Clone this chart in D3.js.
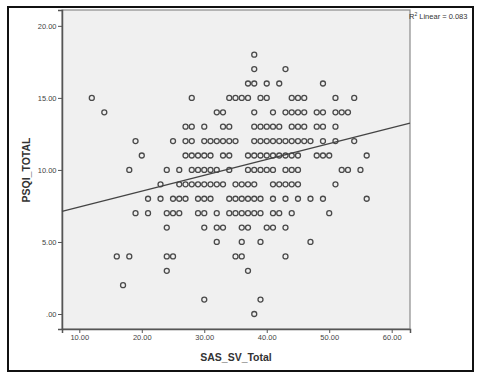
<!DOCTYPE html>
<html>
<head>
<meta charset="utf-8">
<script src="https://cdn.jsdelivr.net/npm/d3@7"></script>
<style>
  html, body { margin: 0; padding: 0; background: #fff; }
  svg { display: block; }
  .tick text { font-family: Arial, "Liberation Sans", sans-serif; font-size: 7.5px; fill: #444; }
</style>
</head>
<body>
<svg id="chart" width="480" height="381"></svg>
<script>
// ---- data ----
const psqiLevels = [18, 17, 16, 15, 14, 13, 12, 11, 10, 9, 8, 7, 6, 5, 4, 3, 2, 1, 0];
const sasByLevel = [
  [38],
  [38, 43],
  [37, 38, 40, 42, 49],
  [12, 28, 34, 35, 36, 37, 39, 40, 44, 45, 46, 51, 54],
  [14, 32, 33, 38, 41, 43, 44, 45, 46, 48, 49, 51, 52, 53],
  [27, 28, 30, 33, 34, 38, 39, 40, 41, 42, 44, 45, 46, 48, 49, 51],
  [19, 25, 27, 28, 30, 31, 32, 33, 34, 35, 38, 39, 40, 41, 42, 43, 44, 45, 46, 47, 49, 51, 54],
  [20, 27, 28, 29, 30, 31, 33, 34, 37, 38, 39, 40, 41, 42, 43, 44, 45, 48, 49, 50, 56],
  [18, 24, 26, 28, 29, 30, 31, 32, 34, 37, 38, 39, 40, 41, 43, 44, 45, 52, 53, 55],
  [23, 26, 27, 28, 29, 30, 31, 32, 33, 35, 36, 37, 38, 41, 42, 43, 44, 45, 51],
  [21, 23, 25, 26, 27, 29, 30, 31, 34, 35, 36, 37, 38, 39, 41, 43, 45, 47, 49, 56],
  [19, 21, 24, 25, 26, 29, 30, 32, 34, 35, 36, 37, 38, 39, 41, 42, 44, 50],
  [24, 30, 32, 33, 36, 37, 40, 41, 43],
  [32, 36, 39, 47],
  [16, 18, 24, 25, 35, 36, 43],
  [24, 37],
  [17],
  [30, 39],
  [38]
];
const xTicks = [10, 20, 30, 40, 50, 60];
const yTicks = [0, 5, 10, 15, 20];
const fitIntercept = 6.33;
const fitSlope = 0.110;
const r2Label = "0.083";
const xTitle = "SAS_SV_Total";
const yTitle = "PSQI_TOTAL";

const points = [];
psqiLevels.forEach((lv, i) => sasByLevel[i].forEach(s => points.push({ x: s, y: lv })));

// ---- layout ----
const svg = d3.select("#chart");
const plot = { left: 62, right: 410, top: 10, bottom: 329 };
const xDomain = [7.23, 62.93];
const yDomain = [-1.04, 21.1];

const x = d3.scaleLinear().domain(xDomain).range([plot.left, plot.right]);
const y = d3.scaleLinear().domain(yDomain).range([plot.bottom, plot.top]);

// outer frame
svg.append("rect")
  .attr("x", 8).attr("y", 7).attr("width", 465).attr("height", 364)
  .attr("fill", "#fff").attr("stroke", "#111").attr("stroke-width", 2);

// plot background
svg.append("rect")
  .attr("x", plot.left).attr("y", plot.top)
  .attr("width", plot.right - plot.left).attr("height", plot.bottom - plot.top)
  .attr("fill", "#f0f0f0").attr("stroke", "#8a8a8a").attr("stroke-width", 1.2);

// axes
const fmt = d => d === 0 ? ".00" : d3.format(".2f")(d);
const xAxis = svg.append("g")
  .attr("transform", `translate(0,${plot.bottom})`)
  .call(d3.axisBottom(x).tickValues(xTicks).tickFormat(fmt).tickSize(4).tickPadding(2));
const yAxis = svg.append("g")
  .attr("transform", `translate(${plot.left},0)`)
  .call(d3.axisLeft(y).tickValues(yTicks).tickFormat(fmt).tickSize(4).tickPadding(1.5));
[xAxis, yAxis].forEach(g => {
  g.select(".domain").attr("stroke", "#555").attr("stroke-width", 1.5);
  g.selectAll(".tick line").attr("stroke", "#555");
});

// points
svg.append("g").selectAll("circle").data(points).join("circle")
  .attr("cx", d => x(d.x)).attr("cy", d => y(d.y)).attr("r", 2.5)
  .attr("fill", "none").attr("stroke", "#4a4a4a").attr("stroke-width", 1.3);

// fit line
const lineGen = d3.line().x(d => x(d)).y(d => y(fitIntercept + fitSlope * d));
svg.append("path").datum(xDomain)
  .attr("d", lineGen)
  .attr("fill", "none").attr("stroke", "#444").attr("stroke-width", 1.3);

// R² label
const r2 = svg.append("text")
  .attr("x", plot.right - 1).attr("y", 19)
  .attr("font-family", "Arial, 'Liberation Sans', sans-serif")
  .attr("font-size", 7.5).attr("fill", "#333");
r2.append("tspan").text("R");
r2.append("tspan").text("2").attr("font-size", 5).attr("dy", -3);
r2.append("tspan").text(` Linear = ${r2Label}`).attr("dy", 3);

// axis titles
svg.append("text")
  .attr("x", (plot.left + plot.right) / 2 - 0).attr("y", 361)
  .attr("text-anchor", "middle")
  .attr("font-family", "Arial, 'Liberation Sans', sans-serif")
  .attr("font-size", 10.5).attr("font-weight", "bold").attr("fill", "#333")
  .text(xTitle);
svg.append("text")
  .attr("transform", `translate(30,170) rotate(-90)`)
  .attr("text-anchor", "middle")
  .attr("font-family", "Arial, 'Liberation Sans', sans-serif")
  .attr("font-size", 10.5).attr("font-weight", "bold").attr("fill", "#333")
  .text(yTitle);
</script>
</body>
</html>
